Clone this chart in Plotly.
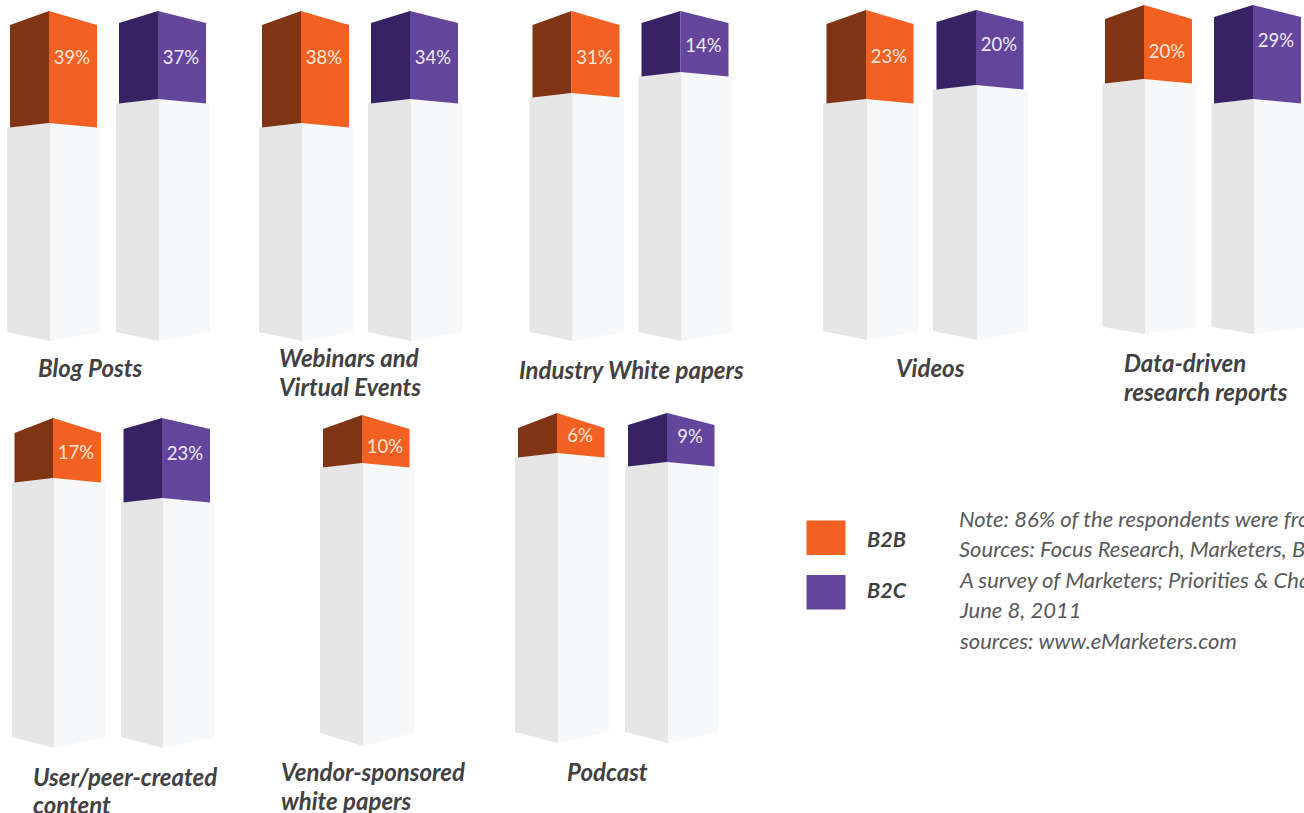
import plotly.graph_objects as go

# ---- data ----
categories = ["Blog Posts", "Webinars and<br>Virtual Events", "Industry White papers", "Videos",
              "Data-driven<br>research reports", "User/peer-created<br>content",
              "Vendor-sponsored<br>white papers", "Podcast"]
b2b_values = [39, 38, 31, 23, 20, 17, 10, 6]
b2c_values = [37, 34, 14, 20, 29, 23, None, 9]
# drawn depth of the coloured cap of each column (the artwork is not to scale)
b2b_cap_depth = [112, 112, 82, 89, 74, 60, 48, 40]
b2c_cap_depth = [88, 88, 61, 75, 94, 80, None, 49]
legend_names = ["B2B", "B2C"]
note_lines = ["Note: 86% of the respondents were fro",
              "Sources: Focus Research, Marketers, B",
              "A survey of Marketers; Priorities &amp; Cha",
              "June 8, 2011",
              "sources: www.eMarketers.com"]

# ---- artwork layout (pixel scale of the axes) ----
b2b_ridge = [49, 301, 571.5, 866, 1144, 53, 362, 557]
b2c_ridge = [158, 410, 680.5, 976, 1253, 162, None, 667]
apex_y = [11, 11, 11, 10, 5, 418, 415, 413]
base_ridge_y = [341, 341, 341, 340, 334, 748, 746, 743]
base_corner_y = [332, 332, 332, 331, 327, 737, 733, 732]
b2b_corner_drop = [14, 14, 14, 14, 14, 15, 14, 15]
b2c_corner_drop = [12, 12, 12, 12, 12, 11, None, 12]
b2b_label_drop = [46, 46, 46, 46, 46, 34, 31, 22]
b2c_label_drop = [46, 46, 34, 34, 35, 35, None, 23]
cap_half = [(-39, 48), (-39, 48), (-39, 48), (-39.5, 47.5), (-39, 48), (-38.5, 48), (-39, 47.5), (-39, 47.5)]
body_half = [(-42, 52), (-42, 52), (-42, 52.5), (-43, 52), (-41.5, 53), (-41, 53), (-42, 52), (-42, 51.5)]
label_x = [36, 277, 517, 894, 1122, 31, 279, 565]
label_y = [[367], [357, 386], [369], [367], [362, 391], [776, 804], [771, 800], [771]]
note_y = [518, 548, 579, 609, 640]

ORANGE, ORANGE_DARK = "#F26122", "#7F3413"
PURPLE, PURPLE_DARK = "#63459C", "#372364"
GREY_LEFT, GREY_RIGHT = "#E6E6E6", "#F6F8FA"
FONT = "Lato"


def face(x, y, color):
    return go.Scatter(x=x, y=y, mode="lines", fill="toself", fillcolor=color,
                      line=dict(width=0, color=color), hoverinfo="skip", showlegend=False)


fig = go.Figure()


def column(group, ridge, value, depth, drop, label_drop, light, dark, text_color):
    if value is None:
        return
    cl, cr = cap_half[group]
    bl, br = body_half[group]
    top = apex_y[group]
    cap_bottom = top + depth
    corner = top + drop
    bottom_corner = cap_bottom + 4.5
    fig.add_trace(face([ridge + bl, ridge + 1, ridge + 1, ridge + bl],
                       [bottom_corner, cap_bottom, base_ridge_y[group], base_corner_y[group]], GREY_LEFT))
    fig.add_trace(face([ridge + 1, ridge + br, ridge + br, ridge + 1],
                       [cap_bottom, bottom_corner, base_corner_y[group], base_ridge_y[group]], GREY_RIGHT))
    fig.add_trace(face([ridge + cl, ridge, ridge, ridge + cl],
                       [corner, top, cap_bottom, bottom_corner], dark))
    fig.add_trace(face([ridge, ridge + cr, ridge + cr, ridge],
                       [top, corner, bottom_corner, cap_bottom], light))
    fig.add_trace(go.Scatter(x=[ridge + 23], y=[top + label_drop + 2], mode="text", text=[f"{value}%"],
                             textposition="middle center",
                             textfont=dict(family=FONT, size=18.5, color=text_color),
                             hoverinfo="skip", showlegend=False))


for g in range(len(categories)):
    column(g, b2b_ridge[g], b2b_values[g], b2b_cap_depth[g], b2b_corner_drop[g], b2b_label_drop[g],
           ORANGE, ORANGE_DARK, "#FDE6D8")
    column(g, b2c_ridge[g], b2c_values[g], b2c_cap_depth[g], b2c_corner_drop[g], b2c_label_drop[g],
           PURPLE, PURPLE_DARK, "#EFEAF6")

annotations = []
for name, x, ys in zip(categories, label_x, label_y):
    for line, y in zip(name.split("<br>"), ys):
        annotations.append(dict(x=x, y=y, xref="x", yref="y", text=line, showarrow=False, xanchor="left",
                                yanchor="middle", align="left",
                                font=dict(family=FONT, size=24, color="#414042", weight="bold", style="italic")))
for name, y in zip(legend_names, [539, 590]):
    annotations.append(dict(x=865, y=y, xref="x", yref="y", text=name, showarrow=False, xanchor="left",
                            yanchor="middle",
                            font=dict(family=FONT, size=21.5, color="#414042", weight="bold", style="italic")))
for line, y in zip(note_lines, note_y):
    annotations.append(dict(x=957, y=y, xref="x", yref="y", text=line, showarrow=False, xanchor="left",
                            yanchor="middle",
                            font=dict(family=FONT, size=22, color="#58595B", style="italic")))

shapes = [
    dict(type="rect", xref="x", yref="y", x0=806.5, x1=845.5, y0=520.5, y1=555, fillcolor=ORANGE, line_width=0),
    dict(type="rect", xref="x", yref="y", x0=806.5, x1=845.5, y0=575, y1=609.5, fillcolor=PURPLE, line_width=0),
]

fig.update_layout(
    width=1304, height=813, margin=dict(l=0, r=0, t=0, b=0),
    paper_bgcolor="white", plot_bgcolor="white", showlegend=False,
    xaxis=dict(range=[0, 1304], visible=False, fixedrange=True),
    yaxis=dict(range=[813, 0], visible=False, fixedrange=True),
    annotations=annotations, shapes=shapes,
)

fig.write_html("out.html", config={"displayModeBar": False},
               post_script="document.body.style.margin='0';document.body.style.overflow='hidden';")
